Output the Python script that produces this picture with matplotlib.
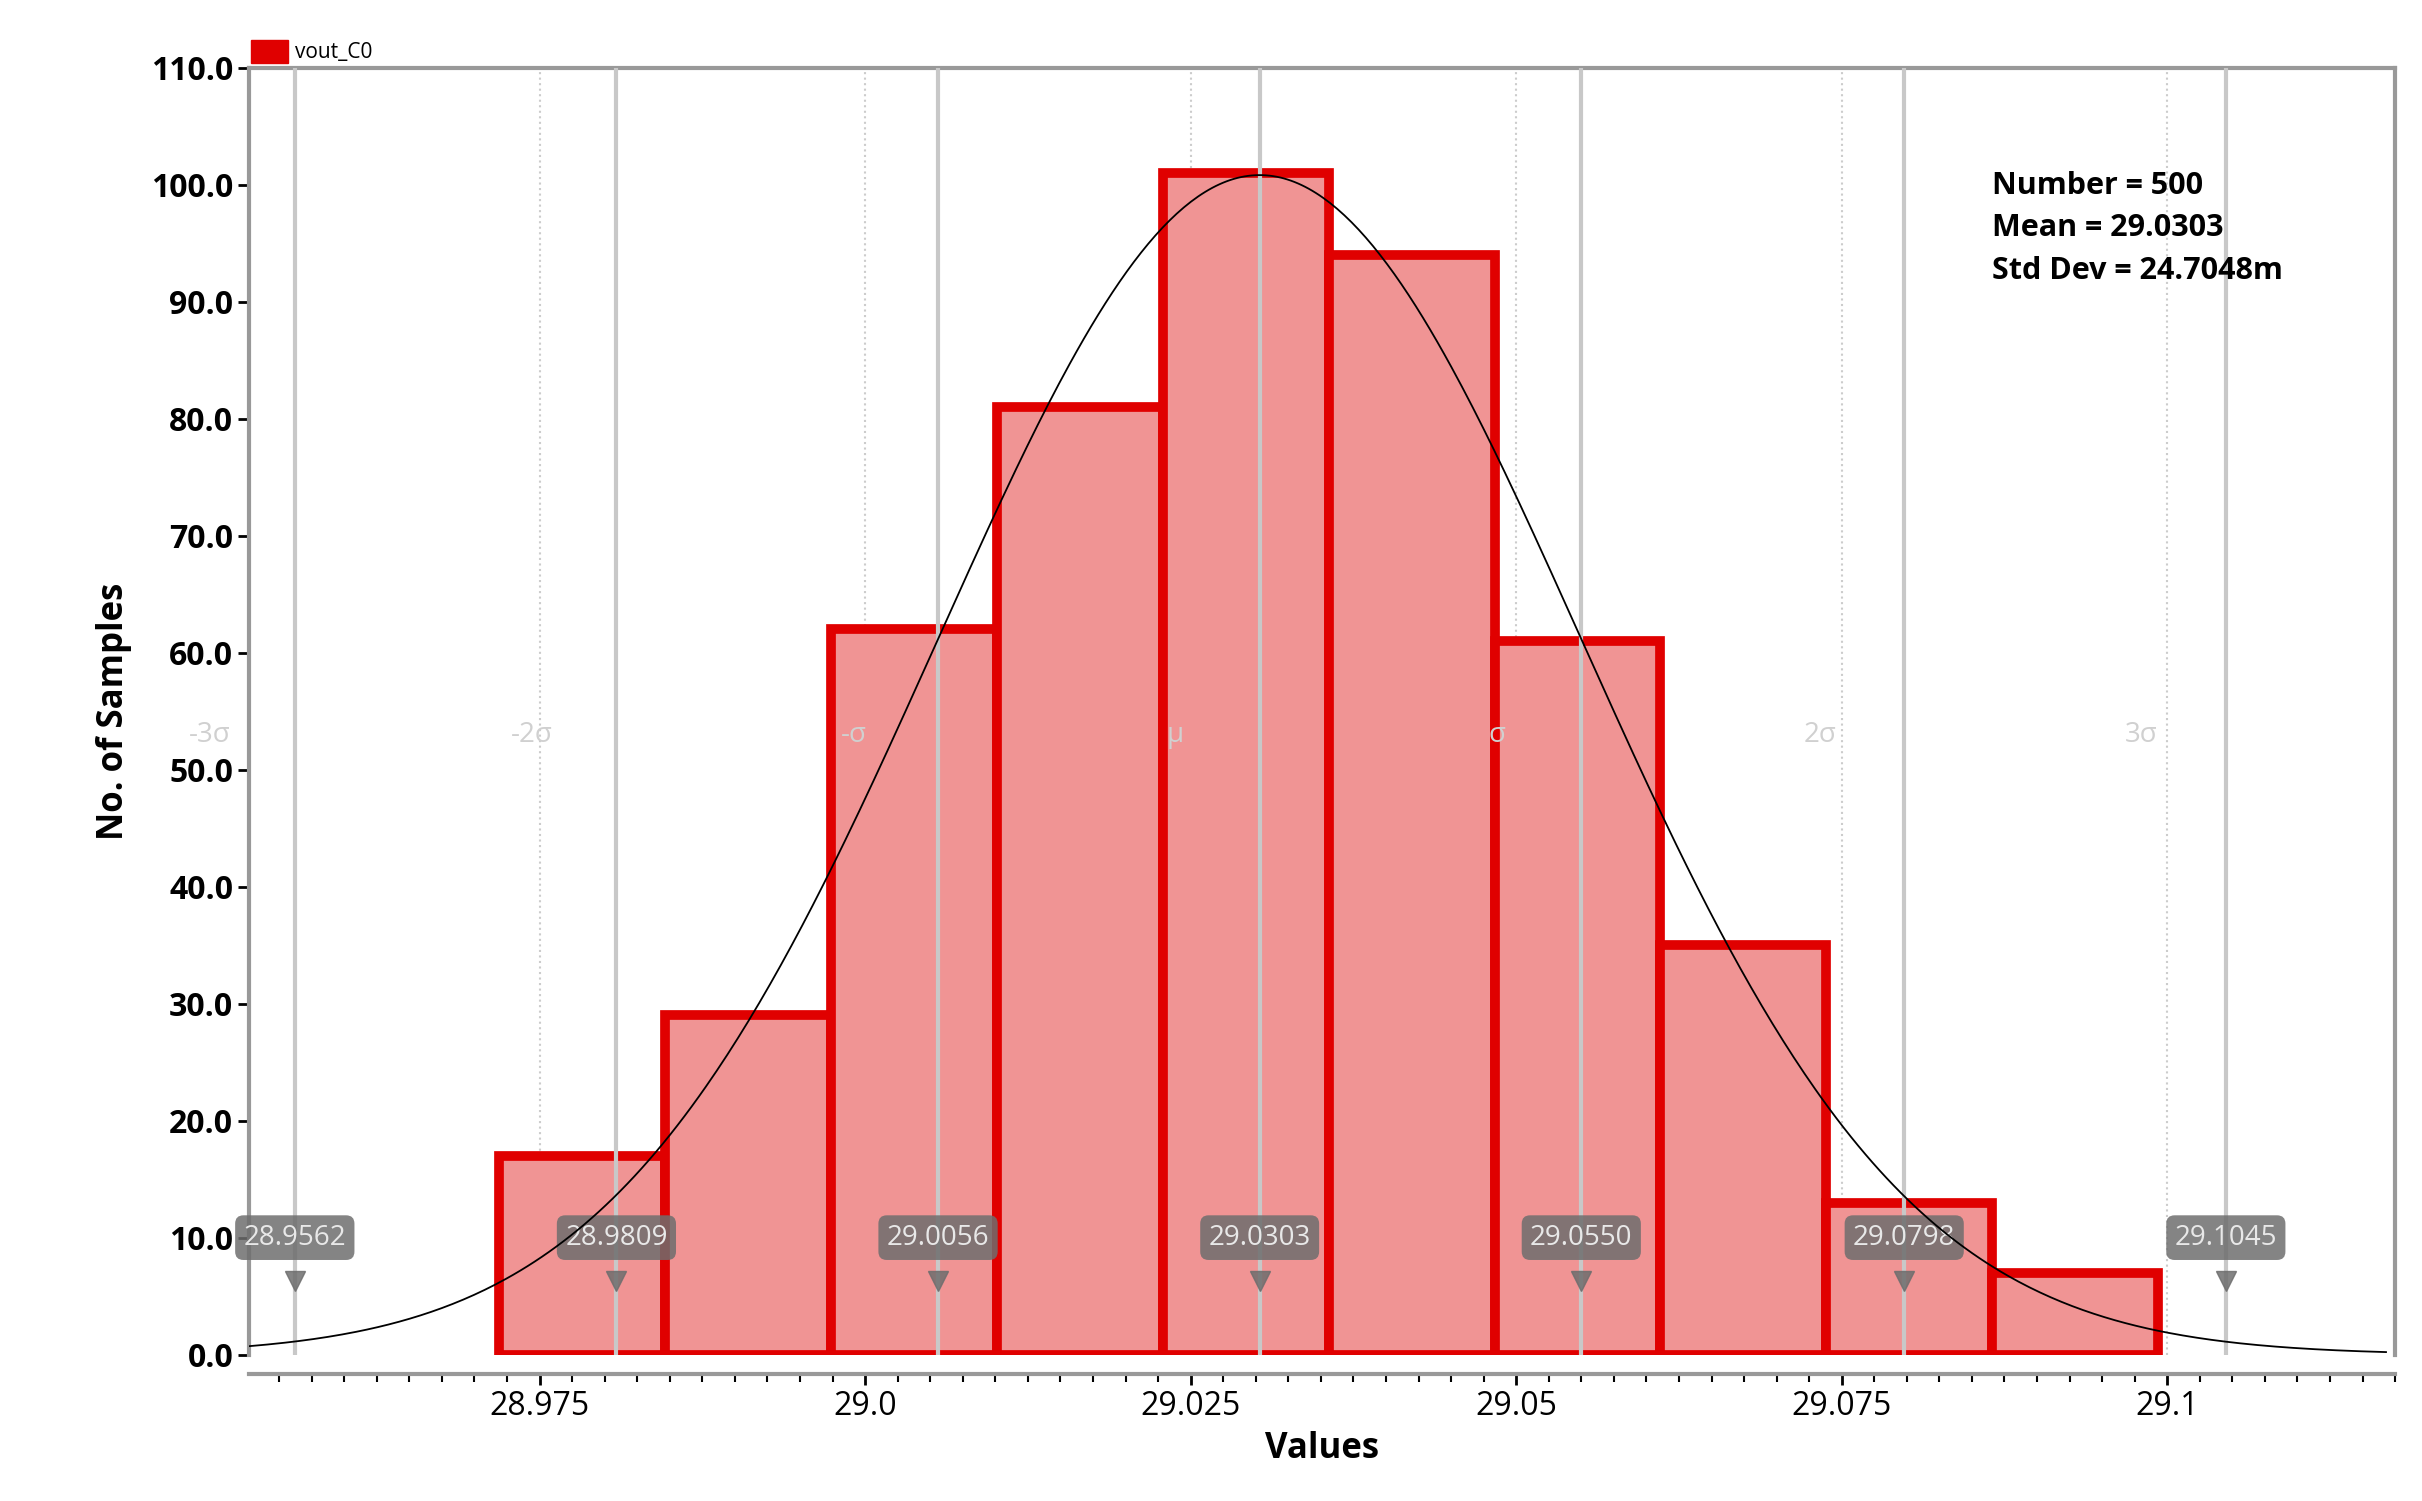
import numpy as np
import matplotlib
matplotlib.use("Agg")
import matplotlib.pyplot as plt

counts = [17, 29, 62, 81, 101, 94, 61, 35, 13, 7]
bin_start = 28.9719
bin_width = 0.01274
n_samples = 500
mean = 29.0303
std = 0.0247048
sigma_vals = ["28.9562", "28.9809", "29.0056", "29.0303", "29.0550", "29.0798", "29.1045"]
sigma_names = ["-3σ", "-2σ", "-σ", "μ", "σ", "2σ", "3σ"]
xticks = [28.975, 29.0, 29.025, 29.05, 29.075, 29.1]
xtick_labels = ["28.975", "29.0", "29.025", "29.05", "29.075", "29.1"]

plt.rcParams['font.family'] = ['Open Sans', 'DejaVu Sans']
fig = plt.figure(figsize=(24.22, 15.01), dpi=100)
ax = fig.add_axes([0.1029, 0.0975, 0.886, 0.8575])
xmin, xmax = 28.9527, 29.1168
ax.set_xlim(xmin, xmax)
ax.set_ylim(0, 110)

edges = bin_start + bin_width * np.arange(len(counts) + 1)
ax.bar(edges[:-1], counts, width=bin_width, align='edge', color='#f09494',
       edgecolor='#e00000', linewidth=7, zorder=2)

for t in xticks:
    ax.axvline(t, color='#cccccc', linestyle=':', linewidth=1.5, zorder=1)

for i, v in enumerate(sigma_vals):
    x = float(v)
    ax.axvline(x, color='#c8c8c8', linewidth=3, zorder=3)
    ax.text(x - 0.0065, 53, sigma_names[i], color='#d0d0d0', fontsize=20,
            ha='center', va='center', zorder=4)
    ax.annotate(v, (x, 10), ha='center', va='center', fontsize=20, color='#e8e8e8',
                bbox=dict(boxstyle='round,pad=0.3', fc='#6e6e6e', ec='none', alpha=0.85),
                zorder=5)
    ax.plot([x], [6.3], marker='v', color='#6e6e6e', markersize=14, alpha=0.85, zorder=5)

xs = np.linspace(xmin, xmax, 600)
ys = n_samples * bin_width / (std * np.sqrt(2 * np.pi)) * np.exp(-0.5 * ((xs - mean) / std) ** 2) * 0.98
ax.plot(xs, ys, color='black', linewidth=1.3, zorder=6)

ax.set_xticks(xticks)
ax.set_xticklabels(xtick_labels)
ax.set_xticks(np.arange(28.955, 29.1175, 0.0025), minor=True)
ax.set_yticks(np.arange(0, 111, 10))
ax.set_yticklabels([f"{v:.1f}" for v in np.arange(0, 111, 10)])
ax.tick_params(axis='both', labelsize=23, width=2, length=8, color='black')
ax.tick_params(axis='x', which='minor', length=6, width=1.5)
for lab in ax.get_xticklabels() + ax.get_yticklabels():
    lab.set_fontweight('bold')
for s in ['top', 'right', 'left']:
    ax.spines[s].set_color('#999999')
    ax.spines[s].set_linewidth(3)
ax.spines['bottom'].set_color('#999999')
ax.spines['bottom'].set_linewidth(3)
ax.spines['bottom'].set_position(('outward', 14))
ax.set_xlabel("Values", fontsize=25, fontweight='bold', labelpad=6)
ax.set_ylabel("No. of Samples", fontsize=25, fontweight='bold', labelpad=14)

ax.text(0.812, 0.92, "Number = 500\nMean = 29.0303\nStd Dev = 24.7048m", transform=ax.transAxes,
        fontsize=22, fontweight='bold', va='top', linespacing=1.55)

fig.patches.append(plt.Rectangle((0.1035, 0.958), 0.0155, 0.0155, transform=fig.transFigure,
                                 color='#e00000'))
fig.text(0.122, 0.965, "vout_C0", fontsize=15, va='center')

fig.savefig("out.png", dpi=100, facecolor='white')
